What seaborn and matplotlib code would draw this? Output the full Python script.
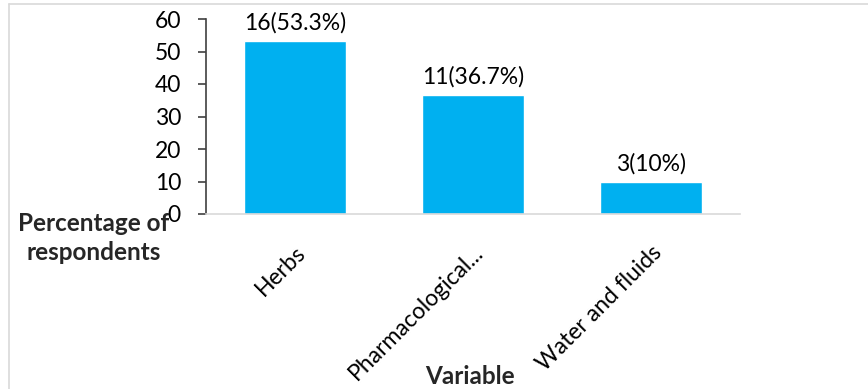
import matplotlib
matplotlib.use("Agg")
import matplotlib.pyplot as plt
from matplotlib.lines import Line2D
import seaborn as sns
import pandas as pd

# Data
categories = ["Herbs", "Pharmacological...", "Water and fluids"]
values = [53.3, 36.7, 10.0]
counts = [16, 11, 3]
value_labels = ["16(53.3%)", "11(36.7%)", "3(10%)"]
yticks = [0, 10, 20, 30, 40, 50, 60]

sns.set_theme(style="white")
plt.rcParams["font.family"] = ["Lato", "DejaVu Sans"]

df = pd.DataFrame({"Variable": categories, "Percentage": values})

fig = plt.figure(figsize=(8.68, 3.89), dpi=100)
ax = fig.add_axes([206 / 868, 1 - 214 / 389, (740 - 206) / 868, (214 - 19) / 389])

sns.barplot(data=df, x="Variable", y="Percentage", color="#00B0F0",
            saturation=1, width=0.57, ax=ax)

ax.set_ylim(0, 60)
ax.set_yticks(yticks)
ax.set_xlim(-0.5, 2.5)

for spine in ["top", "right"]:
    ax.spines[spine].set_visible(False)
ax.spines["left"].set_color("#404040")
ax.spines["left"].set_linewidth(1.2)
ax.spines["bottom"].set_color("#d9d9d9")
ax.spines["bottom"].set_linewidth(1.2)

ax.tick_params(axis="y", which="major", left=True, length=6, width=1.2,
               color="#404040", labelsize=16.5, labelcolor="#000000", pad=12)
ax.tick_params(axis="x", bottom=False, labelsize=16.5, labelcolor="#000000", pad=14)

for lbl in ax.get_xticklabels():
    lbl.set_rotation(45)
    lbl.set_ha("right")
    lbl.set_rotation_mode("anchor")

ax.set_xlabel("")
ax.set_ylabel("")

ax.bar_label(ax.containers[0], labels=value_labels, padding=5, fontsize=16.5, color="#000000")

fig.text(94 / 868, 1 - 238 / 389, "Percentage of\nrespondents", ha="center", va="center",
         fontsize=17.5, fontweight="bold", linespacing=1.35)
fig.text(470 / 868, 1 - 376 / 389, "Variable", ha="center", va="center",
         fontsize=17.5, fontweight="bold")

# Light chart-area frame on the left and top
fig.add_artist(Line2D([9 / 868, 9 / 868], [0, 1 - 4 / 389], transform=fig.transFigure,
                      color="#d9d9d9", linewidth=1.2))
fig.add_artist(Line2D([9 / 868, 1], [1 - 4 / 389, 1 - 4 / 389], transform=fig.transFigure,
                      color="#d9d9d9", linewidth=1.2))

fig.savefig("out.png", dpi=100)
